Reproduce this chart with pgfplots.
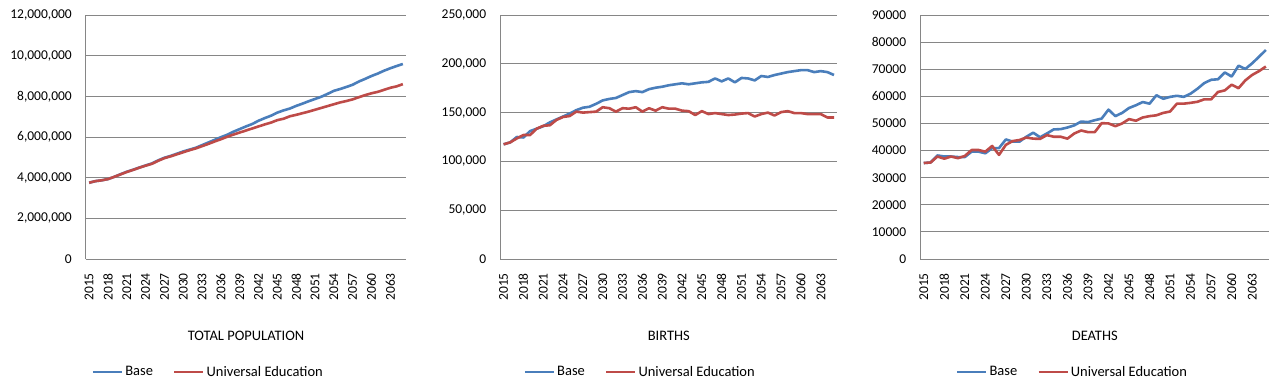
\documentclass[border=0pt]{standalone}
\usepackage{fontspec}
\setmainfont{Carlito}
\usepackage{pgfplots}
\pgfplotsset{compat=1.18}
\usepackage{pgfplotstable}
\definecolor{basec}{HTML}{4A7EBB}
\definecolor{uec}{HTML}{BE4B48}
\definecolor{gridc}{HTML}{868686}

\pgfplotstableread{
year base ue
2015 3750000 3750000
2016 3830000 3830000
2017 3870000 3870000
2018 3930000 3930000
2019 4040000 4040000
2020 4170000 4160000
2021 4290000 4280000
2022 4390000 4380000
2023 4500000 4490000
2024 4600000 4590000
2025 4700000 4680000
2026 4850000 4830000
2027 4980000 4960000
2028 5070000 5050000
2029 5180000 5150000
2030 5290000 5250000
2031 5380000 5350000
2032 5470000 5440000
2033 5600000 5550000
2034 5730000 5660000
2035 5860000 5780000
2036 5990000 5890000
2037 6110000 6010000
2038 6260000 6120000
2039 6390000 6220000
2040 6520000 6320000
2041 6640000 6420000
2042 6800000 6520000
2043 6930000 6620000
2044 7050000 6710000
2045 7200000 6830000
2046 7310000 6900000
2047 7400000 7020000
2048 7530000 7090000
2049 7640000 7170000
2050 7760000 7250000
2051 7870000 7340000
2052 7980000 7430000
2053 8120000 7520000
2054 8270000 7610000
2055 8360000 7700000
2056 8460000 7770000
2057 8570000 7850000
2058 8730000 7960000
2059 8860000 8060000
2060 9000000 8150000
2061 9120000 8220000
2062 9260000 8320000
2063 9380000 8420000
2064 9490000 8490000
2065 9590000 8600000
}\poptable

\pgfplotstableread{
year base ue
2015 117500 117500
2016 119500 119500
2017 125000 123500
2018 124500 127000
2019 131000 127000
2020 133500 133500
2021 136000 136500
2022 140000 137000
2023 143000 142500
2024 146000 145500
2025 149000 146500
2026 152500 151000
2027 155000 150000
2028 156000 150500
2029 159000 151000
2030 162500 155500
2031 164000 154500
2032 165000 151000
2033 168000 154500
2034 171000 154000
2035 172000 155500
2036 171000 151000
2037 174000 154500
2038 175500 152000
2039 176500 155500
2040 178000 154000
2041 179000 154000
2042 180000 152000
2043 179000 151500
2044 180000 147500
2045 181000 151500
2046 181500 148500
2047 185000 149500
2048 182000 148500
2049 185000 147500
2050 181000 148000
2051 185500 149000
2052 185000 149500
2053 183000 146000
2054 187500 148500
2055 186500 150000
2056 188500 147000
2057 190000 150500
2058 191500 151500
2059 192500 149500
2060 193500 149500
2061 193500 148500
2062 191500 148500
2063 192500 148500
2064 191500 145000
2065 188500 145000
}\birthtable

\pgfplotstableread{
year base ue
2015 35400 35400
2016 35600 35600
2017 38200 37800
2018 37800 37000
2019 37800 37800
2020 37600 37200
2021 37600 38000
2022 39600 40200
2023 39600 40200
2024 39000 39600
2025 40900 41700
2026 40900 38400
2027 44100 42100
2028 43300 43500
2029 43300 43900
2030 45100 44800
2031 46600 44400
2032 44900 44300
2033 46300 45700
2034 47800 45100
2035 47900 45100
2036 48500 44400
2037 49300 46300
2038 50700 47400
2039 50500 46800
2040 51200 46800
2041 51800 50100
2042 55100 50000
2043 52700 49000
2044 53900 50000
2045 55700 51600
2046 56700 51000
2047 57900 52200
2048 57300 52700
2049 60400 53000
2050 59100 53900
2051 59800 54400
2052 60200 57300
2053 59800 57300
2054 61000 57600
2055 62800 58000
2056 64900 58900
2057 66100 58900
2058 66300 61600
2059 68800 62200
2060 67300 64300
2061 71300 63000
2062 70100 65900
2063 72200 67900
2064 74600 69300
2065 77100 71000
}\deathtable

\pgfplotsset{
  panel/.style={
    scale only axis, height=244pt,
    clip mode=individual,
    xmin=2014.5, xmax=2065.5, ymin=0,
    xtick={2015,2018,...,2063},
    major tick length=0pt,
    axis x line*=bottom, axis y line*=left,
    axis line style={gridc, line width=1pt, -},
    ymajorgrids, grid style={gridc, line width=1pt},
    /pgf/number format/assume math mode=true,
    tick label style={font=\fontsize{13.5}{15}\selectfont, text=black},
    x tick label style={rotate=90, anchor=east, inner sep=0pt,
       /pgf/number format/.cd, 1000 sep={}},
    xticklabel shift=14pt,
    y tick label style={anchor=east, inner sep=0pt},
    yticklabel shift=14pt,
    scaled y ticks=false,
    legend columns=2,
    legend style={draw=none, fill=none, anchor=center,
      font=\fontsize{14.5}{16}\selectfont, inner sep=0pt,
      /tikz/every even column/.append style={column sep=18pt}},
    legend image code/.code={\draw[#1] (0pt,0pt) -- (29pt,0pt);},
    every axis plot/.append style={line width=2.6pt, line join=round, no markers},
  },
}
\tikzset{ptitle/.style={font=\fontsize{14.5}{16}\selectfont, text=black}}

\begin{document}
\begin{tikzpicture}[x=1pt,y=1pt]
\useasboundingbox (0,0) rectangle (1279,389);

% Panel 1
\begin{axis}[panel, at={(86pt,130pt)}, anchor=south west, width=320pt,
  ymax=12000000, ytick={0,2000000,...,12000000},
  y tick label style={/pgf/number format/.cd, fixed, 1000 sep={,}},
  legend style={at={(axis description cs:0.382,-0.463)}}]
\addplot[basec] table[x=year,y=base] {\poptable};
\addplot[uec] table[x=year,y=ue] {\poptable};
\legend{Base, Universal Education}
\node[ptitle] at (axis description cs:0.5,-0.316) {TOTAL POPULATION};
\end{axis}

% Panel 2
\begin{axis}[panel, at={(500.3pt,130pt)}, anchor=south west, width=337pt,
  ymax=250000, ytick={0,50000,...,250000},
  y tick label style={/pgf/number format/.cd, fixed, 1000 sep={,}},
  legend style={at={(axis description cs:0.415,-0.463)}}]
\addplot[basec] table[x=year,y=base] {\birthtable};
\addplot[uec] table[x=year,y=ue] {\birthtable};
\legend{Base, Universal Education}
\node[ptitle] at (axis description cs:0.5,-0.316) {BIRTHS};
\end{axis}

% Panel 3
\begin{axis}[panel, at={(920.3pt,130pt)}, anchor=south west, width=349pt,
  ymax=90000, ytick={0,10000,...,90000},
  y tick label style={/pgf/number format/.cd, fixed, 1000 sep={}},
  legend style={at={(axis description cs:0.436,-0.463)}}]
\addplot[basec] table[x=year,y=base] {\deathtable};
\addplot[uec] table[x=year,y=ue] {\deathtable};
\legend{Base, Universal Education}
\node[ptitle] at (axis description cs:0.5,-0.316) {DEATHS};
\end{axis}
\end{tikzpicture}
\end{document}
